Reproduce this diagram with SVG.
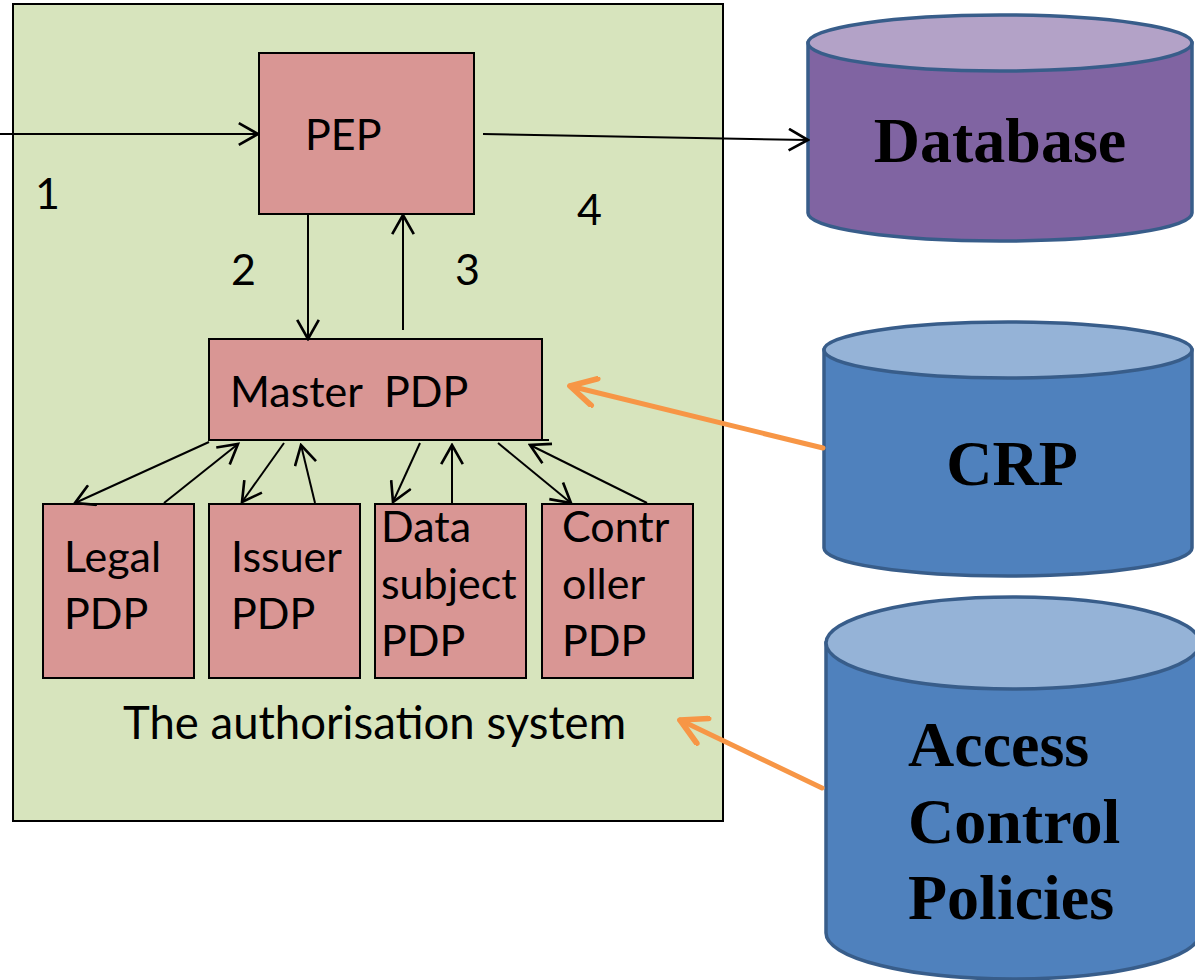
<svg xmlns="http://www.w3.org/2000/svg" width="1195" height="980" viewBox="0 0 1195 980">
<style>
.box{fill:#d99694;stroke:#000;stroke-width:2}
.lbl{font-family:Lato,"Liberation Sans",sans-serif;font-size:43px;fill:#000}
.big{font-family:"Liberation Serif",serif;font-weight:bold;font-size:64px;fill:#000}
.con{stroke:#000;stroke-width:2;fill:none;marker-end:url(#ah)}
.org{stroke:#f79646;stroke-width:5;fill:none;stroke-linecap:round;marker-end:url(#oh)}
.cylP{fill:#8064a2;stroke:#385d8a;stroke-width:3.5}
.cylPt{fill:#b3a2c7;stroke:#385d8a;stroke-width:3.5}
.cylB{fill:#4f81bd;stroke:#385d8a;stroke-width:3.5}
.cylBt{fill:#95b3d7;stroke:#385d8a;stroke-width:3.5}
</style>
<defs>
<marker id="ah" markerUnits="userSpaceOnUse" markerWidth="24" markerHeight="24" refX="18" refY="10" orient="auto" viewBox="0 0 20 20">
<path d="M2,1 L18,10 L2,19" fill="none" stroke="#000" stroke-width="2.2"/>
</marker>
<marker id="oh" markerUnits="userSpaceOnUse" markerWidth="32" markerHeight="32" refX="25" refY="14" orient="auto" viewBox="0 0 28 28">
<path d="M3,2 L25,14 L3,26" fill="none" stroke="#f79646" stroke-width="5" stroke-linecap="round" stroke-linejoin="round"/>
</marker>
</defs>

<g id="system">
<rect x="13" y="4" width="710" height="817" fill="#d7e4bd" stroke="#000" stroke-width="2"/>
<text class="lbl" x="123" y="739" style="font-size:45.5px">The authorisation system</text>
</g>

<g id="pep">
<rect class="box" x="259" y="53" width="215" height="161"/>
<text class="lbl" x="305" y="150">PEP</text>
</g>

<g id="master-pdp">
<rect class="box" x="209" y="339" width="333" height="101"/>
<text class="lbl" x="230" y="407" xml:space="preserve">Master  PDP</text>
</g>

<g id="legal-pdp">
<rect class="box" x="43" y="504" width="151" height="174"/>
<text class="lbl" x="64" y="572">Legal</text>
<text class="lbl" x="64" y="629">PDP</text>
</g>

<g id="issuer-pdp">
<rect class="box" x="209" y="504" width="151" height="174"/>
<text class="lbl" x="231" y="572">Issuer</text>
<text class="lbl" x="231" y="629">PDP</text>
</g>

<g id="data-subject-pdp">
<rect class="box" x="375" y="504" width="151" height="174"/>
<text class="lbl" x="381" y="542">Data</text>
<text class="lbl" x="381" y="599">subject</text>
<text class="lbl" x="381" y="656">PDP</text>
</g>

<g id="controller-pdp">
<rect class="box" x="542" y="504" width="151" height="174"/>
<text class="lbl" x="562" y="542">Contr</text>
<text class="lbl" x="562" y="599">oller</text>
<text class="lbl" x="562" y="656">PDP</text>
</g>

<g id="database">
<path class="cylP" d="M808,43 L808,213 A192,28 0 0 0 1192,213 L1192,43 Z"/>
<ellipse class="cylPt" cx="1000" cy="43" rx="192" ry="28"/>
<text class="big" x="1000" y="162" text-anchor="middle">Database</text>
</g>

<g id="crp">
<path class="cylB" d="M824,350 L824,548 A184,28 0 0 0 1192,548 L1192,350 Z"/>
<ellipse class="cylBt" cx="1008" cy="350" rx="184" ry="28"/>
<text class="big" x="1012" y="485" text-anchor="middle">CRP</text>
</g>

<g id="access-control-policies">
<path class="cylB" d="M826,643 L826,933 A187,46 0 0 0 1200,933 L1200,643 Z"/>
<ellipse class="cylBt" cx="1013" cy="643" rx="187" ry="46"/>
<text class="big" x="908" y="766">Access</text>
<text class="big" x="908" y="843">Control</text>
<text class="big" x="908" y="919">Policies</text>
</g>

<g id="connectors">
<line class="con" x1="0" y1="134" x2="258" y2="134"/>
<line class="con" x1="483" y1="134" x2="808" y2="140"/>
<line class="con" x1="308" y1="214" x2="308" y2="339"/>
<line class="con" x1="403" y1="330" x2="403" y2="215"/>
<line class="con" x1="209" y1="442" x2="75" y2="503"/>
<line class="con" x1="164" y1="503" x2="238" y2="444"/>
<line class="con" x1="284" y1="443" x2="242" y2="502"/>
<line class="con" x1="315" y1="503" x2="301" y2="445"/>
<line class="con" x1="420" y1="443" x2="393" y2="502"/>
<line class="con" x1="452" y1="503" x2="452" y2="445"/>
<line class="con" x1="498" y1="443" x2="571" y2="503"/>
<line class="con" x1="647" y1="503" x2="530" y2="445"/>
<line stroke="#000" stroke-width="2" x1="542" y1="440" x2="549" y2="440"/>
<line class="org" x1="823" y1="448" x2="570" y2="386"/>
<line class="org" x1="822" y1="788" x2="680" y2="720"/>
<text class="lbl" x="35" y="209">1</text>
<text class="lbl" x="231" y="285">2</text>
<text class="lbl" x="455" y="285">3</text>
<text class="lbl" x="577" y="225">4</text>
</g>
</svg>
